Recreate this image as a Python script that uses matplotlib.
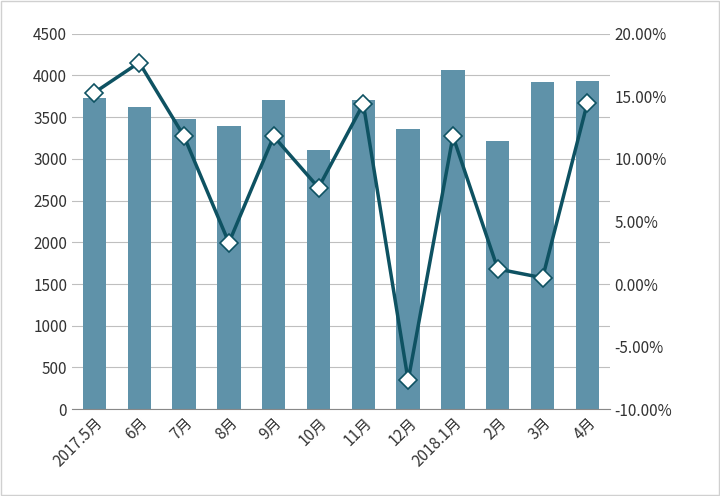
import matplotlib
matplotlib.use("Agg")
import matplotlib.pyplot as plt
from matplotlib.ticker import FuncFormatter
from matplotlib.patches import Rectangle

plt.rcParams['font.family'] = ['Noto Sans CJK SC', 'DejaVu Sans']

categories = ["2017.5月", "6月", "7月", "8月", "9月", "10月", "11月", "12月", "2018.1月", "2月", "3月", "4月"]
volumes = [3730, 3620, 3480, 3390, 3700, 3110, 3700, 3360, 4060, 3210, 3920, 3930]
growth = [15.3, 17.7, 11.8, 3.3, 11.8, 7.7, 14.4, -7.7, 11.8, 1.2, 0.5, 14.5]

fig = plt.figure(figsize=(7.2, 4.96), dpi=100)
fig.patches.append(Rectangle((0.002, 0.002), 0.996, 0.996, transform=fig.transFigure,
                             fill=False, edgecolor="#d0d0d0", linewidth=1))
ax = fig.add_axes([0.10, 0.175, 0.747, 0.757])
x = range(len(categories))
ax.bar(x, volumes, width=0.52, color="#5f92a9", zorder=2)
ax.set_ylim(0, 4500)
ax.set_yticks(range(0, 4501, 500))
ax.set_xlim(-0.5, len(categories) - 0.5)
ax.grid(axis='y', color="#bfbfbf", linewidth=0.8, zorder=0)
ax.set_xticks(list(x))
ax.set_xticklabels(categories, rotation=45, ha='right', rotation_mode='anchor', fontsize=11)
for s in ['top', 'right', 'left']:
    ax.spines[s].set_visible(False)
ax.spines['bottom'].set_color("#888888")
ax.tick_params(axis='y', length=0, labelsize=11, colors="#333333")
ax.tick_params(axis='x', length=0, colors="#333333")

ax2 = ax.twinx()
ax2.plot(x, growth, color="#0e5262", linewidth=2.5, marker='D', markersize=9,
         markerfacecolor='white', markeredgecolor="#0e5262", markeredgewidth=1.2, zorder=3)
ax2.set_ylim(-10, 20)
ax2.set_yticks(range(-10, 21, 5))
ax2.yaxis.set_major_formatter(FuncFormatter(lambda v, p: f"{v:.2f}%"))
for s in ['top', 'right', 'left', 'bottom']:
    ax2.spines[s].set_visible(False)
ax2.tick_params(axis='y', length=0, labelsize=11, colors="#333333")

fig.savefig("out.png", dpi=100)
